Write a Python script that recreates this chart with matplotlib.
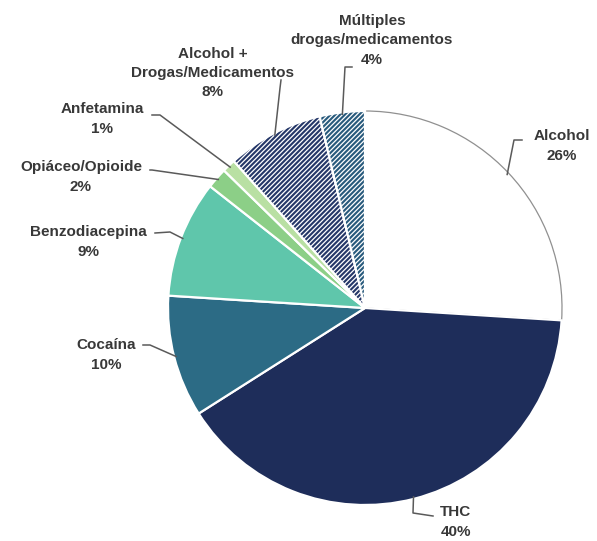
import matplotlib
matplotlib.use("Agg")
from matplotlib import pyplot as plt
import numpy as np

# sustancias, clockwise from the top
labels = ['Alcohol', 'THC', 'Cocaína', 'Benzodiacepina', 'Opiáceo/Opioide',
          'Anfetamina', 'Alcohol +\nDrogas/Medicamentos', 'Múltiples\ndrogas/medicamentos']
shown_pct = ['26%', '40%', '10%', '9%', '2%', '1%', '8%', '4%']
values = [26, 40.0, 10, 9.6, 1.7, 1.1, 7.9, 3.7]

colors = ['#ffffff', '#1e2d5a', '#2c6b85', '#5fc6ab', '#8ccf87', '#b9e0a3', '#253768', '#285a7c']
hatches = [None, None, None, None, None, None, '///////', '///////']

# label placement in pixel coords (x, y from top), plus the elbow of the leader line
text_pos = [(562, 146), (456, 522), (106, 355), (88, 242), (81, 177), (102, 119), (213, 73), (372, 40)]
elbows = [(514, 140), (413, 513), (150, 345), (170, 232), (152, 170), (160, 115), (280, 88), (345, 67)]
text_ends = [(522, 140), (433, 516), (143, 345), (155, 233), (150, 170), (152, 115), (281, 80), (352, 67)]

plt.rcParams['hatch.linewidth'] = 0.9

W, H = 597, 541
fig = plt.figure(figsize=(W / 100, H / 100), dpi=100)
ax = fig.add_axes([0, 0, 1, 1])

cx, cy, r = 365, H - 308, 197
wedges, _ = ax.pie(values, colors=colors, startangle=90, counterclock=False,
                   center=(cx, cy), radius=r, frame=True,
                   wedgeprops=dict(edgecolor='white', linewidth=1.6))
ax.set_xlim(0, W)
ax.set_ylim(0, H)
ax.set_aspect('equal')
ax.axis('off')

for w, h in zip(wedges, hatches):
    if h:
        w.set_hatch(h)

# alcohol slice has a grey outline
wedges[0].set_edgecolor('#909090')
wedges[0].set_linewidth(0.9)
wedges[0].set_zorder(0.5)

for i, w in enumerate(wedges):
    mid = np.deg2rad((w.theta1 + w.theta2) / 2)
    px, py = cx + r * 0.99 * np.cos(mid), cy + r * 0.99 * np.sin(mid)
    ex, ey = elbows[i]
    tx, ty = text_ends[i]
    ax.plot([tx, ex, px], [H - ty, H - ey, py], color='#5a5a5a', lw=1.1, zorder=3)
    x, y = text_pos[i]
    ax.text(x, H - y, labels[i] + '\n' + shown_pct[i], ha='center', va='center',
            fontsize=11, fontweight='bold', family='Liberation Sans',
            color='#383838', linespacing=1.5, zorder=4)

fig.savefig('out.png', dpi=100)
